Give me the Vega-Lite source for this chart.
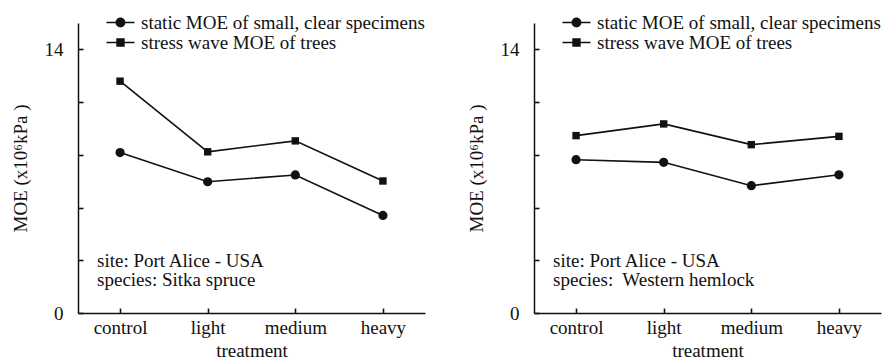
{
  "$schema": "https://vega.github.io/schema/vega-lite/v6.json",
  "background": "white",
  "padding": {"left": 11, "top": 13, "right": 5, "bottom": 5},
  "bounds": "flush",
  "spacing": 109,
  "config": {
    "font": "Liberation Serif",
    "view": {"stroke": null},
    "axis": {
      "labelFont": "Liberation Serif", "labelFontSize": 19, "labelColor": "#111",
      "titleFont": "Liberation Serif", "titleFontSize": 19, "titleFontWeight": "normal", "titleColor": "#111",
      "domainColor": "#111", "domainWidth": 1.5, "tickColor": "#111", "tickWidth": 1.6, "ticks": true, "grid": false
    },
    "legend": {
      "orient": "none", "legendX": 33, "legendY": -10, "title": null,
      "labelFont": "Liberation Serif", "labelFontSize": 19, "labelColor": "#111", "labelLimit": 0,
      "symbolSize": 196, "symbolFillColor": "#111", "symbolStrokeColor": "#111", "symbolStrokeWidth": 0,
      "symbolOpacity": 1, "labelOffset": 11, "rowPadding": -1
    }
  },
  "datasets": {
    "moe": [
      {"panel": "left", "series": "static MOE of small, clear specimens", "treatment": "control", "moe": 8.52},
      {"panel": "left", "series": "static MOE of small, clear specimens", "treatment": "light", "moe": 6.97},
      {"panel": "left", "series": "static MOE of small, clear specimens", "treatment": "medium", "moe": 7.33},
      {"panel": "left", "series": "static MOE of small, clear specimens", "treatment": "heavy", "moe": 5.18},
      {"panel": "left", "series": "stress wave MOE of trees", "treatment": "control", "moe": 12.31},
      {"panel": "left", "series": "stress wave MOE of trees", "treatment": "light", "moe": 8.56},
      {"panel": "left", "series": "stress wave MOE of trees", "treatment": "medium", "moe": 9.14},
      {"panel": "left", "series": "stress wave MOE of trees", "treatment": "heavy", "moe": 7.01},
      {"panel": "right", "series": "static MOE of small, clear specimens", "treatment": "control", "moe": 8.14},
      {"panel": "right", "series": "static MOE of small, clear specimens", "treatment": "light", "moe": 8.0},
      {"panel": "right", "series": "static MOE of small, clear specimens", "treatment": "medium", "moe": 6.76},
      {"panel": "right", "series": "static MOE of small, clear specimens", "treatment": "heavy", "moe": 7.34},
      {"panel": "right", "series": "stress wave MOE of trees", "treatment": "control", "moe": 9.42},
      {"panel": "right", "series": "stress wave MOE of trees", "treatment": "light", "moe": 10.04},
      {"panel": "right", "series": "stress wave MOE of trees", "treatment": "medium", "moe": 8.94},
      {"panel": "right", "series": "stress wave MOE of trees", "treatment": "heavy", "moe": 9.38}
    ],
    "notes": [
      {"panel": "left", "note": "site: Port Alice - USA\nspecies: Sitka spruce"},
      {"panel": "right", "note": "site: Port Alice - USA\nspecies:\u00a0 Western hemlock"}
    ]
  },
  "resolve": {"scale": {"shape": "independent", "x": "independent", "y": "independent"}, "legend": {"shape": "independent"}},
  "hconcat": [
    {
      "width": 347, "height": 290,
      "layer": [
        {
          "data": {"name": "moe"},
          "transform": [{"filter": "datum.panel === 'left'"}],
          "mark": {"type": "line", "color": "#111", "strokeWidth": 1.6},
          "encoding": {
            "x": {"field": "treatment", "type": "ordinal", "sort": ["control", "light", "medium", "heavy"], "scale": {"type": "point", "padding": 0.48, "domain": ["control", "light", "medium", "heavy"]},
                  "axis": {"title": "treatment", "labelAngle": 0, "tickSize": -5, "labelPadding": 10, "titlePadding": 4}},
            "y": {"field": "moe", "type": "quantitative", "scale": {"domain": [0, 15.4], "nice": false, "zero": true},
                  "axis": {"title": "MOE (x10⁶kPa )", "values": [0, 1.4, 2.8, 4.2, 5.6, 7, 8.4, 9.8, 11.2, 12.6, 14, 15.4],
                           "labelExpr": "indexof([0, 7, 14], datum.value) >= 0 ? datum.label : ''", "tickSize": -5, "labelPadding": 20, "titlePadding": 14}},
            "detail": {"field": "series"}
          }
        },
        {
          "data": {"name": "moe"},
          "transform": [{"filter": "datum.panel === 'left' && datum.series === 'static MOE of small, clear specimens'"}],
          "mark": {"type": "point", "shape": "circle", "filled": true, "color": "#111", "size": 85, "opacity": 1},
          "encoding": {"x": {"field": "treatment", "type": "ordinal", "sort": ["control", "light", "medium", "heavy"]}, "y": {"field": "moe", "type": "quantitative"}}
        },
        {
          "data": {"name": "moe"},
          "transform": [{"filter": "datum.panel === 'left' && datum.series === 'stress wave MOE of trees'"}],
          "mark": {"type": "point", "shape": "square", "filled": true, "color": "#111", "size": 55, "opacity": 1},
          "encoding": {"x": {"field": "treatment", "type": "ordinal", "sort": ["control", "light", "medium", "heavy"]}, "y": {"field": "moe", "type": "quantitative"}}
        },
        {
          "data": {"name": "moe"},
          "transform": [{"filter": "datum.panel === 'left'"}],
          "mark": {"type": "point", "filled": true, "color": "#111", "opacity": 0},
          "encoding": {
            "x": {"field": "treatment", "type": "ordinal", "sort": ["control", "light", "medium", "heavy"]}, "y": {"field": "moe", "type": "quantitative"},
            "shape": {"field": "series", "type": "nominal",
                      "scale": {"domain": ["static MOE of small, clear specimens", "stress wave MOE of trees"],
                                "range": ["M-2,-0.11H2V0.11H-2ZM0.7,0A0.7,0.7,0,1,1,-0.7,0A0.7,0.7,0,1,1,0.7,0Z", "M-2,-0.11H2V0.11H-2ZM-0.6,-0.6H0.6V0.6H-0.6Z"]},
                      "legend": {"title": null}}
          }
        },
        {
          "data": {"name": "notes"},
          "transform": [{"filter": "datum.panel === 'left'"}],
          "mark": {"type": "text", "align": "left", "baseline": "alphabetic", "lineBreak": "\n", "lineHeight": 19, "dx": -23, "font": "Liberation Serif", "fontSize": 19, "color": "#111"},
          "encoding": {"x": {"datum": "control", "type": "ordinal"}, "y": {"datum": 2.42, "type": "quantitative"}, "text": {"field": "note"}}
        }
      ]
    },
    {
      "width": 347, "height": 290,
      "layer": [
        {
          "data": {"name": "moe"},
          "transform": [{"filter": "datum.panel === 'right'"}],
          "mark": {"type": "line", "color": "#111", "strokeWidth": 1.6},
          "encoding": {
            "x": {"field": "treatment", "type": "ordinal", "sort": ["control", "light", "medium", "heavy"], "scale": {"type": "point", "padding": 0.48, "domain": ["control", "light", "medium", "heavy"]},
                  "axis": {"title": "treatment", "labelAngle": 0, "tickSize": -5, "labelPadding": 10, "titlePadding": 4}},
            "y": {"field": "moe", "type": "quantitative", "scale": {"domain": [0, 15.4], "nice": false, "zero": true},
                  "axis": {"title": "MOE (x10⁶kPa )", "values": [0, 1.4, 2.8, 4.2, 5.6, 7, 8.4, 9.8, 11.2, 12.6, 14, 15.4],
                           "labelExpr": "indexof([0, 7, 14], datum.value) >= 0 ? datum.label : ''", "tickSize": -5, "labelPadding": 20, "titlePadding": 14}},
            "detail": {"field": "series"}
          }
        },
        {
          "data": {"name": "moe"},
          "transform": [{"filter": "datum.panel === 'right' && datum.series === 'static MOE of small, clear specimens'"}],
          "mark": {"type": "point", "shape": "circle", "filled": true, "color": "#111", "size": 85, "opacity": 1},
          "encoding": {"x": {"field": "treatment", "type": "ordinal", "sort": ["control", "light", "medium", "heavy"]}, "y": {"field": "moe", "type": "quantitative"}}
        },
        {
          "data": {"name": "moe"},
          "transform": [{"filter": "datum.panel === 'right' && datum.series === 'stress wave MOE of trees'"}],
          "mark": {"type": "point", "shape": "square", "filled": true, "color": "#111", "size": 55, "opacity": 1},
          "encoding": {"x": {"field": "treatment", "type": "ordinal", "sort": ["control", "light", "medium", "heavy"]}, "y": {"field": "moe", "type": "quantitative"}}
        },
        {
          "data": {"name": "moe"},
          "transform": [{"filter": "datum.panel === 'right'"}],
          "mark": {"type": "point", "filled": true, "color": "#111", "opacity": 0},
          "encoding": {
            "x": {"field": "treatment", "type": "ordinal", "sort": ["control", "light", "medium", "heavy"]}, "y": {"field": "moe", "type": "quantitative"},
            "shape": {"field": "series", "type": "nominal",
                      "scale": {"domain": ["static MOE of small, clear specimens", "stress wave MOE of trees"],
                                "range": ["M-2,-0.11H2V0.11H-2ZM0.7,0A0.7,0.7,0,1,1,-0.7,0A0.7,0.7,0,1,1,0.7,0Z", "M-2,-0.11H2V0.11H-2ZM-0.6,-0.6H0.6V0.6H-0.6Z"]},
                      "legend": {"title": null}}
          }
        },
        {
          "data": {"name": "notes"},
          "transform": [{"filter": "datum.panel === 'right'"}],
          "mark": {"type": "text", "align": "left", "baseline": "alphabetic", "lineBreak": "\n", "lineHeight": 19, "dx": -23, "font": "Liberation Serif", "fontSize": 19, "color": "#111"},
          "encoding": {"x": {"datum": "control", "type": "ordinal"}, "y": {"datum": 2.42, "type": "quantitative"}, "text": {"field": "note"}}
        }
      ]
    }
  ]
}
